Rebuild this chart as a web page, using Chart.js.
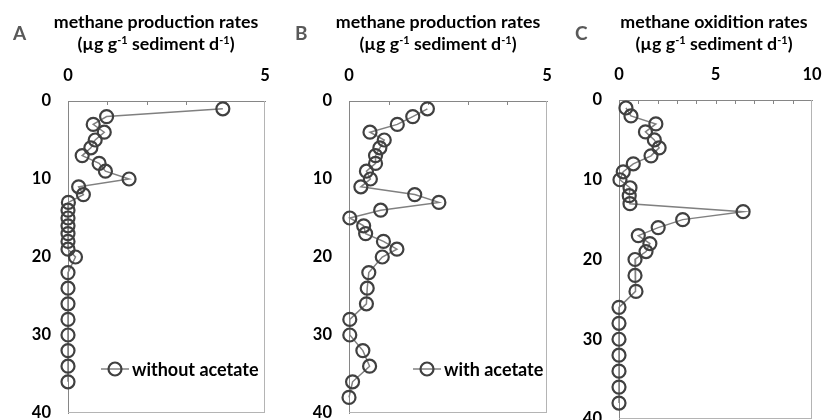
<!DOCTYPE html>
<html>
<head>
<meta charset="utf-8">
<script src="https://cdn.jsdelivr.net/npm/chart.js@4"></script>
<style>
body { margin: 0; background: #fff; font-family: Lato, sans-serif; }
#wrap { position: relative; width: 824px; height: 420px; overflow: hidden; }
.panel { position: absolute; top: 0; height: 420px; overflow: hidden; }
.panel canvas { position: absolute; left: 0; top: 0; }
.title { position: absolute; top: 10px; text-align: center; font-weight: bold; font-size: 17.8px; line-height: 22px; color: #000; white-space: nowrap; transform: translateX(-50%); }
.title sup { font-size: 11px; vertical-align: 6px; line-height: 0; }
.letter { position: absolute; top: 21px; font-weight: bold; font-size: 19px; color: #595959; }
</style>
</head>
<body>
<div id="wrap">
  <div class="panel" style="left:0;width:280px">
    <canvas id="chartA" width="300" height="450"></canvas>
    <div class="letter" style="left:13px">A</div>
    <div class="title" style="left:156px">methane production rates<br>(µg g<sup>-1</sup> sediment d<sup>-1</sup>)</div>
  </div>
  <div class="panel" style="left:280px;width:280px">
    <canvas id="chartB" width="300" height="450"></canvas>
    <div class="letter" style="left:15px">B</div>
    <div class="title" style="left:158px">methane production rates<br>(µg g<sup>-1</sup> sediment d<sup>-1</sup>)</div>
  </div>
  <div class="panel" style="left:560px;width:264px">
    <canvas id="chartC" width="290" height="450"></canvas>
    <div class="letter" style="left:15px">C</div>
    <div class="title" style="left:154px">methane oxidition rates<br>(µg g<sup>-1</sup> sediment d<sup>-1</sup>)</div>
  </div>
</div>
<script>
// depth (cm) and rates
const depthA = [1, 2, 3, 4, 5, 6, 7, 8, 9, 10, 11, 12, 13, 14, 15, 16, 17, 18, 19, 20, 22, 24, 26, 28, 30, 32, 34, 36];
const rateA = [3.93, 0.98, 0.64, 0.92, 0.69, 0.58, 0.36, 0.79, 0.95, 1.55, 0.27, 0.39, 0.01, 0, 0, 0, 0, 0, 0, 0.19, 0, 0, 0, 0, 0, 0, 0, 0];

const depthB = [1, 2, 3, 4, 5, 6, 7, 8, 9, 10, 11, 12, 13, 14, 15, 16, 17, 18, 19, 20, 22, 24, 26, 28, 30, 32, 34, 36, 38];
const rateB = [1.98, 1.61, 1.22, 0.53, 0.89, 0.78, 0.67, 0.67, 0.44, 0.54, 0.30, 1.66, 2.27, 0.80, 0.02, 0.37, 0.42, 0.87, 1.21, 0.84, 0.5, 0.46, 0.44, 0.02, 0.02, 0.35, 0.52, 0.09, 0];

const depthC = [1, 2, 3, 4, 5, 6, 7, 8, 9, 10, 11, 12, 13, 14, 15, 16, 17, 18, 19, 20, 22, 24, 26, 28, 30, 32, 34, 36, 38];
const rateC = [0.36, 0.62, 1.91, 1.37, 1.83, 2.08, 1.66, 0.74, 0.22, 0.05, 0.57, 0.53, 0.57, 6.43, 3.30, 2.03, 1.0, 1.6, 1.4, 0.83, 0.83, 0.88, 0, 0, 0, 0, 0, 0, 0];

const labelA = "without acetate";
const labelB = "with acetate";
const labelC = "";

const AXIS_FONT = { family: "Lato", size: 16.5, weight: "bold" };

// plot frame, inward minor ticks on the top axis, and the small legend
const framePlugin = {
  id: "frame",
  beforeDatasetsDraw(chart) {
    const { ctx, chartArea: a } = chart;
    ctx.save();
    ctx.lineWidth = 1;
    ctx.strokeStyle = "#b4b4b4";
    ctx.beginPath();
    ctx.moveTo(a.right - 0.5, a.top);
    ctx.lineTo(a.right - 0.5, a.bottom);
    ctx.moveTo(a.left, a.bottom - 0.5);
    ctx.lineTo(a.right, a.bottom - 0.5);
    ctx.stroke();
    let x = chart.scales.x;
    ctx.strokeStyle = "#868686";
    ctx.beginPath();
    for (let v = 1; v < x.max; v++) {
      let px = Math.round(x.getPixelForValue(v)) + 0.5;
      ctx.moveTo(px, a.top);
      ctx.lineTo(px, a.top + 4);
    }
    ctx.stroke();
    ctx.restore();
  },
  afterDraw(chart, args, opts) {
    if (!opts.at) return;
    const ctx = chart.ctx;
    const ds = chart.data.datasets[0];
    let lx = opts.at[0], ly = opts.at[1];
    ctx.save();
    ctx.strokeStyle = ds.borderColor;
    ctx.lineWidth = ds.borderWidth;
    ctx.beginPath();
    ctx.moveTo(lx - 14, ly);
    ctx.lineTo(lx + 14, ly);
    ctx.stroke();
    ctx.strokeStyle = ds.pointBorderColor;
    ctx.lineWidth = ds.pointBorderWidth;
    ctx.beginPath();
    ctx.arc(lx, ly, ds.pointRadius, 0, Math.PI * 2);
    ctx.stroke();
    ctx.fillStyle = "#000";
    ctx.font = "bold 18px Lato";
    ctx.textBaseline = "middle";
    ctx.fillText(ds.label, lx + 17, ly + 1);
    ctx.restore();
  }
};

// canvases are a bit larger than their panel so the tick-label padding
// chart.js adds never eats into the plot box; the panel clips the rest
function makeChart(id, depths, rates, label, xMax, box, legendAt) {
  let canvas = document.getElementById(id);
  let points = depths.map((d, i) => ({ x: rates[i], y: d }));
  return new Chart(canvas.getContext("2d"), {
    type: "scatter",
    data: {
      datasets: [{
        label: label,
        data: points,
        showLine: true,
        clip: false,
        borderColor: "#808080",
        borderWidth: 1.5,
        pointRadius: 6.5,
        pointHoverRadius: 6.5,
        pointBorderWidth: 2.2,
        pointBorderColor: "#404040",
        pointBackgroundColor: "rgba(0,0,0,0)"
      }]
    },
    options: {
      responsive: false,
      animation: false,
      layout: {
        autoPadding: false,
        padding: { left: 0, top: 0, right: canvas.width - box.right, bottom: canvas.height - box.bottom }
      },
      plugins: {
        legend: { display: false },
        tooltip: { enabled: false },
        frame: { at: legendAt }
      },
      scales: {
        x: {
          type: "linear",
          position: "top",
          min: 0,
          max: xMax,
          ticks: { stepSize: 5, font: AXIS_FONT, color: "#000", padding: 15, maxRotation: 0 },
          grid: { display: false, drawTicks: false },
          border: { display: true, color: "#868686", width: 1 },
          afterFit(s) { s.height = box.top; }
        },
        y: {
          type: "linear",
          reverse: true,
          min: 0,
          max: 40,
          ticks: { stepSize: 10, font: AXIS_FONT, color: "#000", padding: 17 },
          grid: { display: false, drawTicks: false },
          border: { display: true, color: "#868686", width: 1 },
          afterFit(s) { s.width = box.left; }
        }
      }
    },
    plugins: [framePlugin]
  });
}

makeChart("chartA", depthA, rateA, labelA, 5, { left: 68, top: 101, right: 265, bottom: 413 }, [115, 369]);
makeChart("chartB", depthB, rateB, labelB, 5, { left: 69, top: 101, right: 267, bottom: 413 }, [147, 369]);
makeChart("chartC", depthC, rateC, labelC, 10, { left: 59, top: 100, right: 252, bottom: 419 }, null);
</script>
</body>
</html>
